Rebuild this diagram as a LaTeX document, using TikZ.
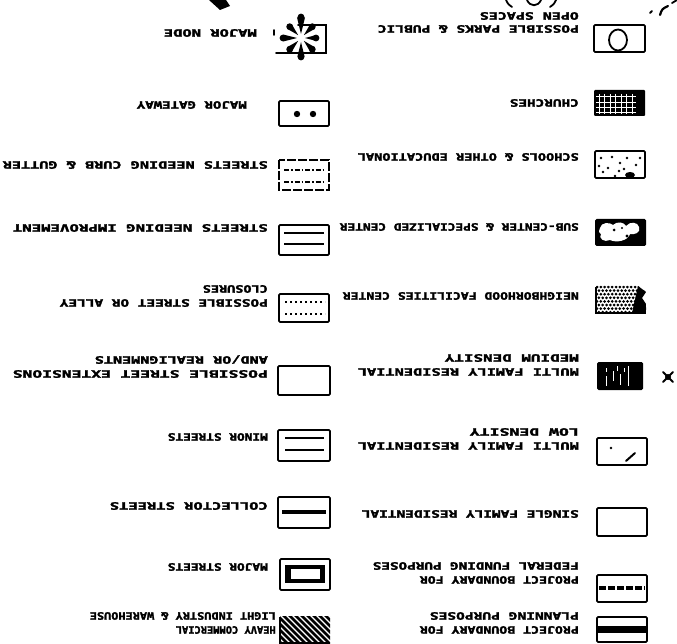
\documentclass[tikz,border=0pt]{standalone}
\usepackage{fontspec}
\usepackage{graphicx}
\newfontfamily\lgfont{DejaVu Sans Mono}[BoldFeatures={FakeBold=2.2}]
\newcommand\lab[2]{\resizebox{#1pt}{\height}{#2}}
\begin{document}
\begin{tikzpicture}[x=1pt,y=-1pt,
  lbl/.style={font=\lgfont\bfseries\fontsize{10.2}{11}\selectfont, rotate=180, anchor=west, inner sep=0pt, text height=7.4pt, text depth=0pt},
  frame/.style={draw, line width=1.8pt, rounded corners=1.2pt},
  ink/.style={line width=1.8pt, line cap=round}]
\useasboundingbox[fill=white] (0,0) rectangle (677,644);

% ---------- right column labels ----------
\node[lbl] (r1a) at (579,29) {\lab{201}{POSSIBLE PARKS \& PUBLIC}};
\node[lbl] (r1b) at (579,16) {\lab{99}{OPEN SPACES}};
\node[lbl] (r2) at (579,103) {\lab{69}{CHURCHES}};
\node[lbl] (r3) at (579,157) {\lab{221}{SCHOOLS \& OTHER EDUCATIONAL}};
\node[lbl] (r4) at (579,227) {\lab{239}{SUB-CENTER \& SPECIALIZED CENTER}};
\node[lbl] (r5) at (579,296) {\lab{236}{NEIGHBORHOOD FACILITIES CENTER}};
\node[lbl] (r6a) at (579,372) {\lab{221}{MULTI FAMILY RESIDENTIAL}};
\node[lbl] (r6b) at (579,358) {\lab{134}{MEDIUM DENSITY}};
\node[lbl] (r7a) at (579,446) {\lab{221}{MULTI FAMILY RESIDENTIAL}};
\node[lbl] (r7b) at (579,432) {\lab{109}{LOW DENSITY}};
\node[lbl] (r8) at (579,514) {\lab{217}{SINGLE FAMILY RESIDENTIAL}};
\node[lbl] (r9a) at (579,580) {\lab{159}{PROJECT BOUNDARY FOR}};
\node[lbl] (r9b) at (579,566) {\lab{206}{FEDERAL FUNDING PURPOSES}};
\node[lbl] (r10a) at (579,630) {\lab{159}{PROJECT BOUNDARY FOR}};
\node[lbl] (r10b) at (579,616) {\lab{149}{PLANNING PURPOSES}};

% ---------- left column labels ----------
\node[lbl] (l1) at (257,33) {\lab{93}{MAJOR NODE}};
\node[lbl] (l2) at (247,105) {\lab{110}{MAJOR GATEWAY}};
\node[lbl] (l3) at (268,165) {\lab{265}{STREETS NEEDING CURB \& GUTTER}};
\node[lbl] (l4) at (268,228) {\lab{255}{STREETS NEEDING IMPROVEMENT}};
\node[lbl] (l5a) at (268,303) {\lab{208}{POSSIBLE STREET OR ALLEY}};
\node[lbl] (l5b) at (268,289) {\lab{65}{CLOSURES}};
\node[lbl] (l6a) at (268,374) {\lab{255}{POSSIBLE STREET EXTENSIONS}};
\node[lbl] (l6b) at (268,360) {\lab{173}{AND/OR REALIGNMENTS}};
\node[lbl] (l7) at (268,437) {\lab{100}{MINOR STREETS}};
\node[lbl] (l8) at (268,506) {\lab{158}{COLLECTOR STREETS}};
\node[lbl] (l9) at (268,567) {\lab{100}{MAJOR STREETS}};
\node[lbl] (l10a) at (276,630) {\lab{100}{HEAVY COMMERCIAL}};
\node[lbl] (l10b) at (276,616) {\lab{186}{LIGHT INDUSTRY \& WAREHOUSE}};

% ---------- right column symbols ----------
% open spaces
\draw[frame] (594,25) rectangle (645,52);
\draw[line width=1.8pt] (618,40) ellipse (9 and 10.5);
% churches
\fill[rounded corners=1pt] (594,90) rectangle (645,116);
\foreach \x in {599,604.5,...,633} \draw[white,line width=1pt] (\x,94) -- (\x,114);
\foreach \y in {97,102.5,108,113} \draw[white,line width=1pt] (596,\y) -- (636,\y);
% schools
\draw[frame] (595,151) rectangle (645,178);
\foreach \p in {(601,158),(599,166),(603,172),(612,157),(620,163),(624,169),(627,158),(632,174),(636,165),(615,176),(608,168),(640,158),(619,171)}
  \fill \p circle (1.4);
\fill (630,175) ellipse (5 and 3);
% sub-center
\fill[rounded corners=1.5pt] (595,219) rectangle (646,246);
\fill[white] (600,228) .. controls (601,222) and (610,222) .. (613,225) .. controls (617,221) and (624,222) .. (626,226) .. controls (630,221) and (638,222) .. (639,227) .. controls (641,233) and (634,235) .. (630,234) .. controls (628,241) and (616,243) .. (610,240) .. controls (604,243) and (598,238) .. (601,234) .. controls (598,232) and (599,230) .. (600,228) -- cycle;
\fill (614,230) circle (1.5) (622,228) circle (1.2) (627,236) circle (1.6);
% neighborhood facilities
\begin{scope}
\clip (596,286) -- (638,286) -- (646,292) -- (642,298) -- (646,304) -- (646,313) -- (596,313) -- cycle;
\foreach \j in {0,...,7} \foreach \i in {0,...,13}
  \fill ({597+3.8*\i+1.9*mod(\j,2)},{287+3.6*\j}) circle (1.5);
\fill (638,286) -- (646,286) -- (646,313) -- (632,313) -- cycle;
\end{scope}
\draw[line width=1.5pt] (596,287) -- (596,313) -- (646,313);
% multi family medium density
\fill[rounded corners=1.5pt] (597,362) rectangle (643,390);
\draw[white,line width=1pt] (606,368)--(606,372) (606,376)--(606,386) (613,371)--(613,381)
  (617,366)--(617,371) (620,374)--(620,385) (628,366)--(628,386) (624,368)--(624,372);
% multi family low density
\draw[frame] (597,438) rectangle (647,465);
\fill (611,448) circle (1.3);
\draw[line width=2pt, line cap=round] (626,461) -- (635,453);
% single family
\draw[frame] (597,508) rectangle (647,536);
% federal funding boundary
\draw[frame] (597,575) rectangle (647,602);
\draw[line width=3.5pt, dash pattern=on 7pt off 2pt] (599,588) -- (645,588);
% planning boundary
\draw[frame] (597,617) rectangle (647,642);
\fill (598,626) rectangle (646,633);

% ---------- left column symbols ----------
% major node
\draw[ink] (298,25) -- (326,25) -- (326,53) -- (276,53);
\draw[ink] (274,30) -- (274,35);
\begin{scope}[shift={(301,38)}]
\foreach \a/\r in {90/19, 270/21, 0/15, 180/18, 45/16, 135/16, 225/16, 315/16}{
  \fill (\a:\r) circle (3.4);
  \fill (\a:4) -- (\a+11:\r) -- (\a-11:\r) -- cycle;
}
\end{scope}
% major gateway
\draw[frame] (279,101) rectangle (329,126);
\fill (297,114) circle (3.2) (313,114) circle (3.2);
% streets needing curb & gutter
\draw[line width=1.8pt, dash pattern=on 9pt off 2pt] (279,160) rectangle (329,190);
\draw[line width=1.3pt, dash pattern=on 5pt off 2pt on 1.5pt off 2pt] (284,170) -- (325,170);
\draw[line width=1.3pt, dash pattern=on 5pt off 2pt on 1.5pt off 2pt] (284,182) -- (325,182);
% streets needing improvement
\draw[frame] (279,225) rectangle (329,255);
\draw[line width=1.4pt] (284,233) -- (324,233);
\draw[line width=1.4pt] (284,244) -- (324,244);
% closures
\draw[frame] (279,294) rectangle (329,322);
\draw[line width=1.6pt, dash pattern=on 2pt off 3pt] (285,302) -- (325,302);
\draw[line width=1.6pt, dash pattern=on 2pt off 3pt] (285,314) -- (325,314);
% extensions
\draw[frame] (278,366) rectangle (330,395);
% minor streets
\draw[frame] (278,430) rectangle (330,461);
\draw[line width=1.6pt] (285,438) -- (324,438) (285,450) -- (324,450);
% collector streets
\draw[frame] (278,497) rectangle (330,528);
\draw[line width=3.5pt] (282,512) -- (326,512);
% major streets
\draw[frame] (280,559) rectangle (330,590);
\fill (285,565) rectangle (325,583);
\fill[white] (291,569) rectangle (320,579);
% heavy commercial / light industry
\begin{scope}
\clip (280,616) rectangle (330,643);
\foreach \k in {-40,-34,...,56} \draw[line width=2.6pt] (280+\k,614) -- (310+\k,644);
\end{scope}
\draw[line width=1.5pt] (280,617) -- (280,643) -- (330,643);

% ---------- fragments at the top edge and a stray mark ----------
\fill (209,0) -- (226,0) -- (230,6) -- (220,10) -- cycle;
\draw[ink] (506,0) .. controls (508,4) .. (512,7);
\draw[ink] (527,0) .. controls (530,7) and (538,7) .. (541,0);
\draw[ink] (556,0) .. controls (554,4) .. (550,7);
\draw[ink] (650,13) -- (652,11);
\draw[line width=2.2pt, line cap=round] (660,15) .. controls (662,9) .. (668,6);
\draw[ink] (672,3) -- (677,0);
\fill (668,377) circle (3);
\draw[ink] (663,372) -- (673,382) (673,372) -- (663,382);
\end{tikzpicture}
\end{document}
